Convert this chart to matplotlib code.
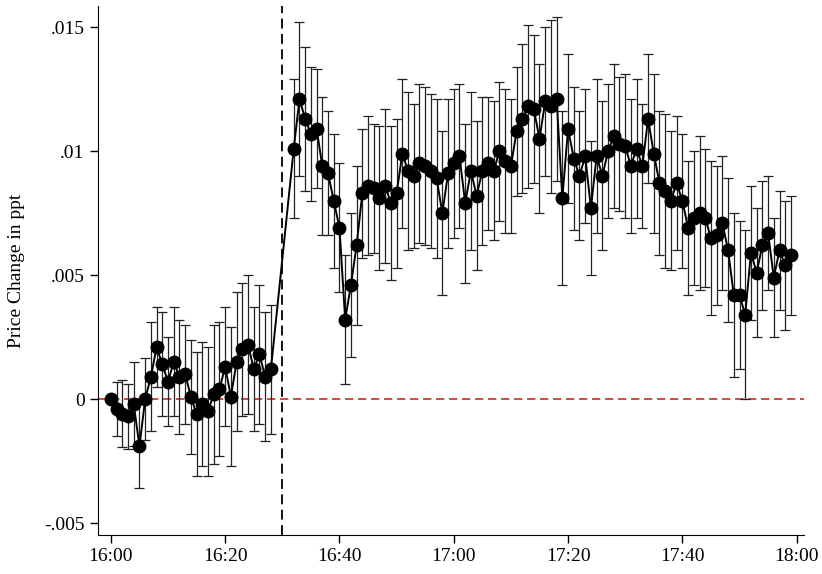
import numpy as np
import matplotlib
matplotlib.use("Agg")
import matplotlib.pyplot as plt

plt.rcParams['font.family'] = 'serif'
plt.rcParams['font.serif'] = ['Liberation Serif', 'DejaVu Serif']

# minutes after 16:00 (no observations for 16:29-16:31)
minutes = list(range(0, 29)) + list(range(32, 120))

# price change (ppt) per minute
pre_change = [0.0000, -0.0004, -0.0006, -0.0007, -0.0002, -0.0019, 0.0000, 0.0009, 0.0021, 0.0014,
              0.0007, 0.0015, 0.0009, 0.0010, 0.0001, -0.0006, -0.0002, -0.0005, 0.0002, 0.0004,
              0.0013, 0.0001, 0.0015, 0.0020, 0.0022, 0.0012, 0.0018, 0.0009, 0.0012]
post_change = [0.0101, 0.0121, 0.0113, 0.0107, 0.0109, 0.0094, 0.0091, 0.0080, 0.0069, 0.0032,
               0.0046, 0.0062, 0.0083, 0.0086, 0.0085, 0.0081, 0.0086, 0.0079, 0.0083, 0.0099,
               0.0092, 0.0090, 0.0095, 0.0094, 0.0092, 0.0089, 0.0075, 0.0091, 0.0095, 0.0098,
               0.0079, 0.0092, 0.0082, 0.0092, 0.0095, 0.0092, 0.0100, 0.0096, 0.0094, 0.0108,
               0.0113, 0.0118, 0.0117, 0.0105, 0.0120, 0.0118, 0.0121, 0.0081, 0.0109, 0.0097,
               0.0090, 0.0098, 0.0077, 0.0098, 0.0090, 0.0100, 0.0106, 0.0103, 0.0102, 0.0094,
               0.0101, 0.0094, 0.0113, 0.0099, 0.0087, 0.0084, 0.0080, 0.0087, 0.0080, 0.0069,
               0.0073, 0.0075, 0.0073, 0.0065, 0.0066, 0.0071, 0.0060, 0.0042, 0.0042, 0.0034,
               0.0059, 0.0051, 0.0062, 0.0067, 0.0049, 0.0060, 0.0054, 0.0058]

# half width of the confidence band
pre_ci = [0.0, 0.00107, 0.00135, 0.0013, 0.0017, 0.0017, 0.00165, 0.0022, 0.0016, 0.0021,
          0.0018, 0.0022, 0.0023, 0.0020, 0.0023, 0.0025, 0.0025, 0.0026, 0.0028, 0.0027,
          0.0024, 0.0028, 0.0028, 0.0027, 0.0028, 0.0025, 0.0028, 0.0026, 0.0026]
post_ci = [0.0028, 0.0031, 0.0029, 0.0027, 0.0024, 0.0028, 0.0025, 0.0027, 0.0026, 0.0026,
           0.0029, 0.0032, 0.0026, 0.0028, 0.0026, 0.0029, 0.0031, 0.0031, 0.0030, 0.0030,
           0.0032, 0.0029, 0.0032, 0.0032, 0.0031, 0.0032, 0.0033, 0.0030, 0.0030, 0.0029,
           0.0032, 0.0032, 0.0030, 0.0030, 0.0027, 0.0028, 0.0028, 0.0029, 0.0027, 0.0026,
           0.0030, 0.0033, 0.0030, 0.0030, 0.0030, 0.0035, 0.0033, 0.0035, 0.0030, 0.0029,
           0.0026, 0.0027, 0.0027, 0.0031, 0.0030, 0.0027, 0.0029, 0.0027, 0.0029, 0.0027,
           0.0028, 0.0025, 0.0026, 0.0032, 0.0029, 0.0031, 0.0028, 0.0027, 0.0027, 0.0027,
           0.0027, 0.0031, 0.0028, 0.0031, 0.0028, 0.0027, 0.0029, 0.0033, 0.0030, 0.0034,
           0.0027, 0.0026, 0.0026, 0.0023, 0.0024, 0.0024, 0.0026, 0.0024]

change = np.array(pre_change + post_change)
ci = np.array(pre_ci + post_ci)

xtick_pos = [0, 20, 40, 60, 80, 100, 120]
xtick_labels = ['16:00', '16:20', '16:40', '17:00', '17:20', '17:40', '18:00']
ytick_pos = [-0.005, 0, 0.005, 0.01, 0.015]
ytick_labels = ['-.005', '0', '.005', '.01', '.015']
event_minute = 30

fig = plt.figure(figsize=(8.22, 5.74), dpi=100)
ax = fig.add_axes([0.1189, 0.068, 0.8593, 0.9215])

ax.axhline(0, color='#c4302b', lw=1.2, linestyle=(0, (5, 2.8)), zorder=1)
ax.axvline(event_minute, color='black', lw=1.3, linestyle=(0, (5.5, 3)), zorder=1)

ax.errorbar(minutes, change, yerr=ci, fmt='none', ecolor='#222222', elinewidth=0.9,
            capsize=3.6, capthick=0.9, zorder=2)
ax.plot(minutes, change, color='black', lw=1.4, marker='o', markersize=9,
        markerfacecolor='black', markeredgecolor='black', zorder=3)

ax.set_xlim(-2.3, 121.3)
ax.set_ylim(-0.00548, 0.01585)
ax.set_xticks(xtick_pos)
ax.set_xticklabels(xtick_labels)
ax.set_yticks(ytick_pos)
ax.set_yticklabels(ytick_labels)
ax.tick_params(labelsize=14, length=6, width=1, direction='out')
ax.set_ylabel('Price Change in ppt', fontsize=14, labelpad=14)

ax.spines['top'].set_visible(False)
ax.spines['right'].set_visible(False)

fig.savefig('out.png', dpi=100)
